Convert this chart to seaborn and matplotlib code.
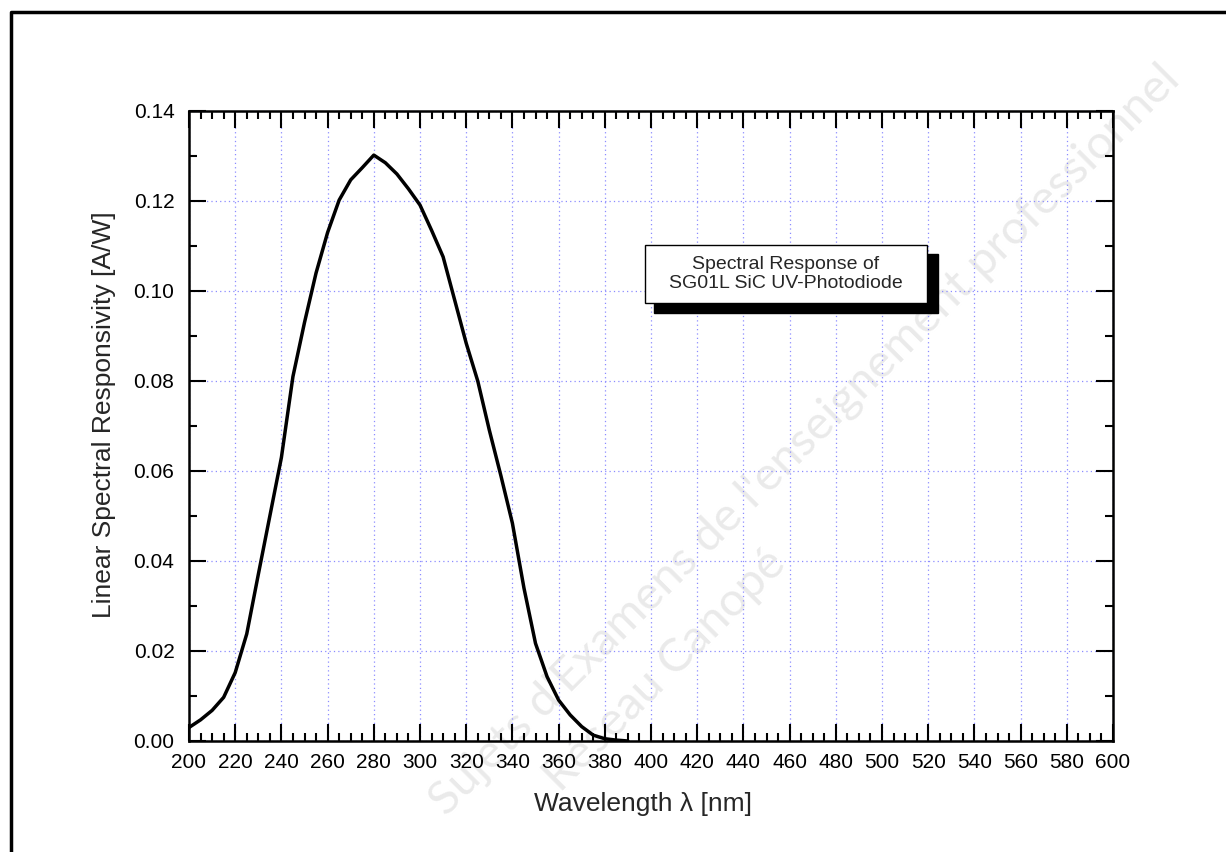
import numpy as np
import pandas as pd
import matplotlib
matplotlib.use("Agg")
import matplotlib.pyplot as plt
import seaborn as sns
from matplotlib.ticker import MultipleLocator
from matplotlib.patches import Rectangle
from matplotlib.lines import Line2D

# Données (pas de 5 nm)
wavelength = [200, 205, 210, 215, 220, 225, 230, 235, 240, 245,
              250, 255, 260, 265, 270, 275, 280, 285, 290, 295,
              300, 305, 310, 315, 320, 325, 330, 335, 340, 345,
              350, 355, 360, 365, 370, 375, 380, 385, 390]
responsivity = [0.0030, 0.0047, 0.0068, 0.0097, 0.0152, 0.0238, 0.0370, 0.0500, 0.0630, 0.0810,
                0.0930, 0.1040, 0.1130, 0.1202, 0.1247, 0.1274, 0.1302, 0.1285, 0.1260, 0.1227,
                0.1191, 0.1135, 0.1076, 0.0980, 0.0884, 0.0800, 0.0691, 0.0590, 0.0484, 0.0340,
                0.0217, 0.0143, 0.0091, 0.0058, 0.0032, 0.0013, 0.0005, 0.0002, 0.0000]
x_ticks = list(range(200, 601, 20))
y_ticks = [0.00, 0.02, 0.04, 0.06, 0.08, 0.10, 0.12, 0.14]

df = pd.DataFrame({"wl": wavelength, "resp": responsivity})

sns.set_style("ticks")
plt.rcParams["font.family"] = ["Liberation Sans", "DejaVu Sans"]

W, H = 1226, 852
fig = plt.figure(figsize=(W / 100, H / 100), dpi=100, facecolor="white")
ax = fig.add_axes([189 / W, 111 / H, 924 / W, 630 / H])
ax.set_facecolor("none")

sns.lineplot(data=df, x="wl", y="resp", color="black", linewidth=2.5, ax=ax, zorder=5)

ax.set_xlim(200, 600)
ax.set_ylim(0, 0.14)
ax.set_xticks(x_ticks)
ax.set_yticks(y_ticks)
ax.set_yticklabels([f"{v:.2f}" for v in y_ticks])
ax.xaxis.set_minor_locator(MultipleLocator(5))
ax.yaxis.set_minor_locator(MultipleLocator(0.01))
ax.tick_params(which="both", direction="in", top=True, right=True, width=1.5, colors="black",
               labelsize=15)
ax.tick_params(which="major", length=12)
ax.tick_params(which="minor", length=6)
ax.tick_params(axis="x", which="major", pad=8.5)
ax.tick_params(axis="y", which="major", pad=10.5)
for s in ax.spines.values():
    s.set_linewidth(1.8)
    s.set_color("black")

ax.grid(True, which="major", color="#8c8cff", linestyle=(0, (1, 2.5)), linewidth=0.9)

ax.set_xlabel("Wavelength λ [nm]", fontsize=19)
ax.set_ylabel("Linear Spectral Responsivity [A/W]", fontsize=19)
ax.xaxis.set_label_coords((643 - 189) / 924, (741 - 804) / 630)
ax.xaxis.label.set_va("center")
ax.yaxis.set_label_coords((104 - 189) / 924, (741 - 415) / 630)
ax.yaxis.label.set_va("center")

# Encadré avec ombre
ax.add_patch(Rectangle((654.3 / W, (H - 312.7) / H), 284 / W, 59 / H,
                       transform=fig.transFigure, facecolor="black", edgecolor="black", zorder=6))
ax.add_patch(Rectangle((645 / W, (H - 303) / H), 282 / W, 58 / H,
                       transform=fig.transFigure, facecolor="white", edgecolor="black",
                       linewidth=1.0, zorder=7))
fig.text(786 / W, (H - 274) / H, "Spectral Response of\nSG01L SiC UV-Photodiode",
         ha="center", va="center", fontsize=14, linespacing=1.2, zorder=8)

# Cadre de la figure
fig.add_artist(Line2D([11 / W, 11 / W, 1], [0, 1 - 12 / H, 1 - 12 / H],
                      transform=fig.transFigure, color="black", linewidth=2.5))

# Filigrane (derrière les axes)
fig.text(805 / W, 1 - 440 / H, "Sujets d'Examens de l'enseignement professionnel",
         rotation=45, ha="center", va="center", fontsize=34, color="#eaeaea",
         family=["Lato", "DejaVu Sans"], zorder=-1)
fig.text(665 / W, 1 - 670 / H, "Réseau Canopé",
         rotation=45, ha="center", va="center", fontsize=34, color="#eaeaea",
         family=["Lato", "DejaVu Sans"], zorder=-1)

fig.savefig("out.png", dpi=100, facecolor="white")
